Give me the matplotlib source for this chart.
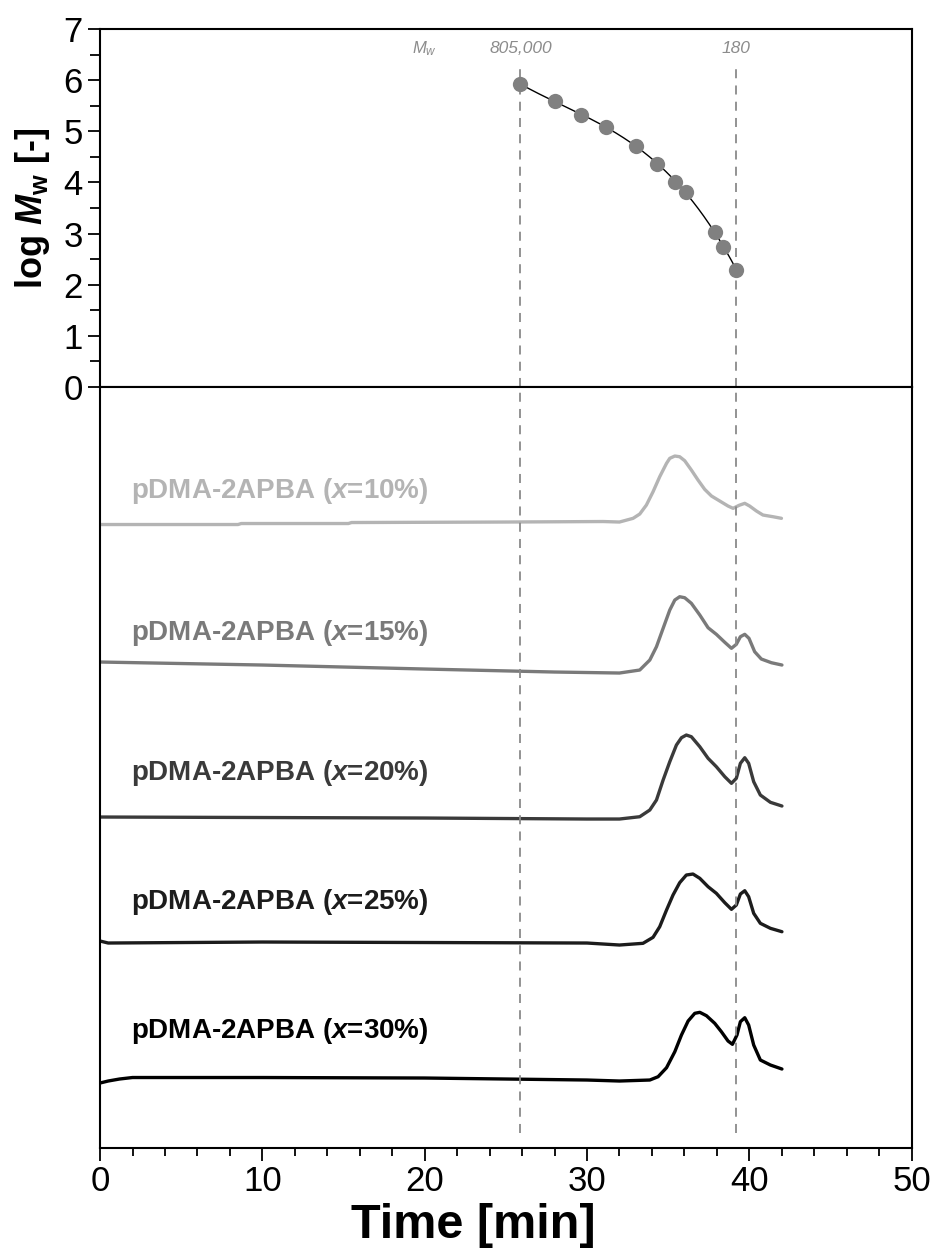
import matplotlib
matplotlib.use("Agg")
import matplotlib.pyplot as plt
import numpy as np
from matplotlib.ticker import MultipleLocator

plt.rcParams['font.family'] = ['Liberation Sans', 'DejaVu Sans']
plt.rcParams['mathtext.fontset'] = 'custom'
plt.rcParams['mathtext.rm'] = 'Liberation Sans'
plt.rcParams['mathtext.it'] = 'Liberation Sans:italic'
plt.rcParams['mathtext.bf'] = 'Liberation Sans:bold'
plt.rcParams['mathtext.bfit'] = 'Liberation Sans:bold:italic'

# calibration standards: elution time [min] vs log Mw
cal_time = [25.9, 28.0, 29.6, 31.2, 33.0, 34.3, 35.4, 36.1, 37.9, 38.4, 39.2]
cal_logmw = [5.92, 5.60, 5.32, 5.09, 4.72, 4.36, 4.01, 3.82, 3.03, 2.74, 2.29]
mw_marks = [(25.9, "805,000"), (39.2, "180")]

# SEC traces (detector response, stacked, arbitrary units)
t1 = [0, 8.5, 8.7, 15.3, 15.5, 25, 31, 32.0, 32.84, 33.25, 33.66, 34.07, 34.48, 34.9, 35.1,
      35.41, 35.71, 36.02, 36.43, 36.84, 37.25, 37.67, 38.18, 38.69, 39.0, 39.37, 39.72,
      40.02, 40.44, 40.84, 41.46, 41.98]
r1 = [6.235, 6.235, 6.245, 6.245, 6.255, 6.26, 6.265, 6.26, 6.297, 6.34, 6.43, 6.563, 6.713,
      6.847, 6.897, 6.92, 6.913, 6.873, 6.78, 6.68, 6.587, 6.52, 6.47, 6.42, 6.397, 6.427,
      6.447, 6.42, 6.37, 6.33, 6.313, 6.297]
t2 = [0, 10, 20, 28, 32, 33.25, 33.87, 34.28, 34.69, 35.1, 35.41, 35.71, 36.02, 36.43, 36.95,
      37.46, 37.97, 38.49, 38.9, 39.2, 39.45, 39.72, 39.98, 40.33, 40.74, 41.36, 42.01]
r2 = [4.86, 4.83, 4.79, 4.76, 4.75, 4.78, 4.88, 5.013, 5.197, 5.38, 5.48, 5.513, 5.503, 5.447,
      5.33, 5.203, 5.137, 5.057, 4.997, 5.037, 5.113, 5.137, 5.097, 4.963, 4.89, 4.853, 4.83]
t3 = [0, 10, 20, 30, 32, 33.25, 33.87, 34.28, 34.69, 35.1, 35.51, 35.82, 36.12, 36.43, 36.95,
      37.46, 37.97, 38.49, 38.9, 39.2, 39.45, 39.72, 39.96, 40.27, 40.68, 41.3, 42.01]
r3 = [3.31, 3.305, 3.30, 3.29, 3.29, 3.313, 3.38, 3.48, 3.68, 3.863, 4.03, 4.103, 4.13, 4.113,
      4.013, 3.897, 3.813, 3.713, 3.647, 3.697, 3.847, 3.903, 3.847, 3.663, 3.53, 3.457, 3.42]
t4 = [0, 0.5, 10, 20, 30, 32, 33.45, 34.07, 34.48, 34.9, 35.3, 35.71, 36.12, 36.53, 36.95,
      37.46, 37.97, 38.49, 38.9, 39.2, 39.45, 39.72, 39.96, 40.27, 40.68, 41.3, 42.01]
r4 = [2.07, 2.05, 2.06, 2.055, 2.05, 2.03, 2.047, 2.107, 2.213, 2.38, 2.53, 2.653, 2.73, 2.74,
      2.697, 2.613, 2.547, 2.453, 2.387, 2.43, 2.54, 2.573, 2.513, 2.347, 2.247, 2.197, 2.163]
t5 = [0, 0.5, 1.2, 2, 10, 20, 30, 32, 33.87, 34.38, 34.9, 35.41, 35.82, 36.23, 36.64, 36.95,
      37.36, 37.87, 38.28, 38.69, 38.96, 39.24, 39.45, 39.72, 39.96, 40.27, 40.68, 41.3, 42.01]
r5 = [0.65, 0.67, 0.69, 0.705, 0.705, 0.70, 0.68, 0.67, 0.68, 0.713, 0.803, 0.963, 1.13, 1.27,
      1.347, 1.357, 1.323, 1.247, 1.163, 1.07, 1.037, 1.13, 1.263, 1.303, 1.23, 1.03, 0.88,
      0.83, 0.79]

traces = [(t1, r1), (t2, r2), (t3, r3), (t4, r4), (t5, r5)]
labels = ["10%", "15%", "20%", "25%", "30%"]
label_y = [6.57, 5.15, 3.75, 2.46, 1.17]
colors = ["#b4b4b4", "#7a7a7a", "#3a3a3a", "#1c1c1c", "#000000"]

fig = plt.figure(figsize=(9.35, 12.57), dpi=100)
ax_top = fig.add_axes([0.107, 0.6921, 0.868, 0.2848])
ax = fig.add_axes([0.107, 0.0867, 0.868, 0.6054], sharex=ax_top)

# --- calibration panel ---
p = np.polyfit(cal_time, cal_logmw, 3)
tf = np.linspace(cal_time[0], cal_time[-1], 200)
ax_top.plot(tf, np.polyval(p, tf), color="black", lw=1.0, zorder=2)
ax_top.plot(cal_time, cal_logmw, "o", color="#808080", ms=11, mec="none", zorder=3)
for xv, txt in mw_marks:
    ax_top.axvline(xv, ymin=0, ymax=6.25 / 7, color="#8a8a8a", lw=1.3, ls=(0, (5, 4)))
    ax_top.text(xv, 6.62, txt, ha="center", va="center", color="#8c8c8c",
                fontsize=12.5, style="italic")
ax_top.text(20.0, 6.62, "$M_\\mathregular{w}$", ha="center", va="center", color="#8c8c8c",
            fontsize=12, style="italic")
ax_top.set_ylim(0, 7)
ax_top.yaxis.set_major_locator(MultipleLocator(1))
ax_top.yaxis.set_minor_locator(MultipleLocator(0.5))
ax_top.tick_params(axis="y", which="major", direction="out", length=9, width=1.3, labelsize=25)
ax_top.tick_params(axis="y", which="minor", direction="out", length=7, width=1.3)
ax_top.tick_params(axis="x", which="both", bottom=False, labelbottom=False)
ax_top.set_ylabel("log $\\mathbfit{M}_\\mathbf{w}$ [-]", fontsize=26,
                  fontweight="bold", labelpad=8)

# --- chromatogram panel ---
for (tt, rr), c, lab, ly in zip(traces, colors, labels, label_y):
    ax.plot(tt, rr, color=c, lw=2.4, solid_joinstyle="round", solid_capstyle="round")
    ax.text(1.9, ly, "pDMA-2APBA ($\\mathbfit{x}$=" + lab + ")", color=c,
            fontsize=20, fontweight="bold", va="center", ha="left")
for xv, _ in mw_marks:
    ax.axvline(xv, ymin=0.02, ymax=1, color="#8a8a8a", lw=1.3, ls=(0, (5, 4)))

ax.set_ylim(0, 7.61)
ax.set_yticks([])
ax.set_xlim(0, 50)
ax.xaxis.set_major_locator(MultipleLocator(10))
ax.xaxis.set_minor_locator(MultipleLocator(2))
ax.tick_params(axis="x", which="major", direction="out", length=9, width=1.3, labelsize=25)
ax.tick_params(axis="x", which="minor", direction="out", length=6, width=1.3)
ax.set_xlabel("Time [min]", fontsize=35, fontweight="bold")
ax.xaxis.set_label_coords(0.46, -0.072)

for a in (ax, ax_top):
    for s in a.spines.values():
        s.set_linewidth(1.5)

fig.savefig("out.png", dpi=100)
